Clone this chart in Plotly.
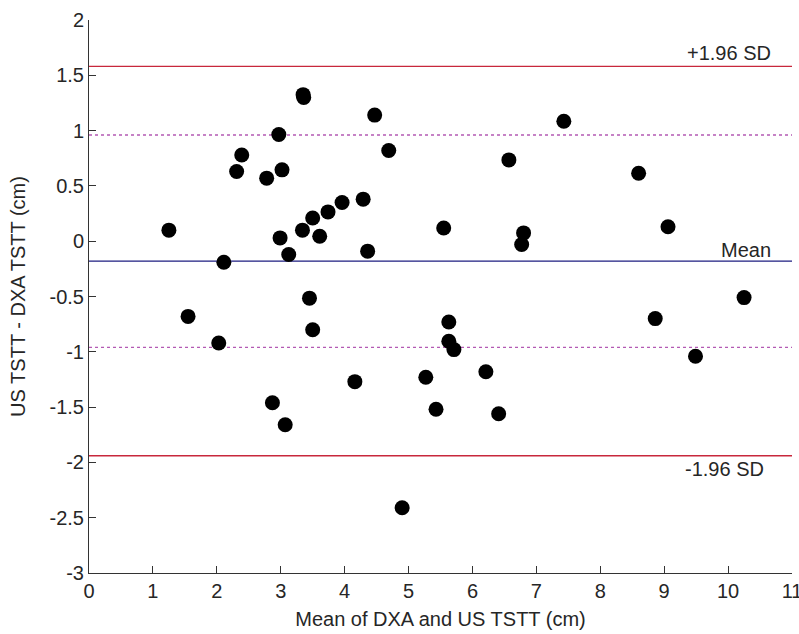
import plotly.graph_objects as go

# Bland-Altman agreement: mean of the two methods vs their difference (cm)
mean_dxa_us = [1.25, 1.55, 2.03, 2.11, 2.31, 2.39, 2.78, 2.87, 2.97, 2.99,
               3.02, 3.07, 3.125, 3.34, 3.35, 3.36, 3.45, 3.50, 3.50, 3.61,
               3.74, 3.96, 4.16, 4.29, 4.36, 4.47, 4.69, 4.90, 5.27, 5.43,
               5.55, 5.63, 5.63, 5.71, 6.21, 6.41, 6.57, 6.77, 6.80, 7.43,
               8.60, 8.86, 9.06, 9.49, 10.25]
diff_us_dxa = [0.10, -0.68, -0.92, -0.19, 0.63, 0.78, 0.57, -1.46, 0.965, 0.03,
               0.645, -1.66, -0.12, 0.10, 1.325, 1.30, -0.515, -0.80, 0.21, 0.045,
               0.265, 0.35, -1.27, 0.38, -0.09, 1.14, 0.82, -2.41, -1.23, -1.52,
               0.12, -0.73, -0.905, -0.98, -1.18, -1.56, 0.735, -0.03, 0.075, 1.085,
               0.615, -0.70, 0.13, -1.04, -0.51]

# Reference lines
bias_mean = -0.18
upper_loa = 1.58
lower_loa = -1.94
tolerance = [0.96, -0.96]

x_range = [0, 11]
y_range = [-3, 2]
x_ticks = list(range(0, 12))
x_tick_text = [str(v) for v in x_ticks]
y_ticks = [2, 1.5, 1, 0.5, 0, -0.5, -1, -1.5, -2, -2.5, -3]
y_tick_text = ["2", "1.5", "1", "0.5", "0", "-0.5", "-1", "-1.5", "-2", "-2.5", "-3"]

FONT = "Liberation Sans, Arial, sans-serif"
TXT = "#262626"
AX = "#333333"

fig = go.Figure()

shapes = []
for yv, col, dash in [(upper_loa, "#c8283c", "solid"),
                      (lower_loa, "#c8283c", "solid"),
                      (bias_mean, "#1c1c80", "solid"),
                      (tolerance[0], "#b45ab4", "dot"),
                      (tolerance[1], "#b45ab4", "dot")]:
    shapes.append(dict(type="line", xref="x", yref="y",
                       x0=x_range[0], x1=x_range[1], y0=yv, y1=yv,
                       line=dict(color=col, width=1.3, dash=dash), layer="below"))

fig.add_trace(go.Scatter(
    x=mean_dxa_us, y=diff_us_dxa, mode="markers",
    marker=dict(color="black", size=15, line=dict(width=0)),
    showlegend=False, hoverinfo="x+y"))

annotations = [
    dict(x=10.7, y=upper_loa, text="+1.96 SD", xanchor="right", yanchor="bottom",
         yshift=0, showarrow=False),
    dict(x=10.7, y=bias_mean, text="Mean", xanchor="right", yanchor="bottom",
         yshift=-2, showarrow=False),
    dict(x=10.6, y=lower_loa, text="-1.96 SD", xanchor="right", yanchor="top",
         yshift=0, showarrow=False),
]
for a in annotations:
    a["font"] = dict(family=FONT, size=20, color=TXT)

fig.update_layout(
    width=799, height=634,
    margin=dict(l=89, r=7, t=20, b=61),
    paper_bgcolor="white", plot_bgcolor="white",
    font=dict(family=FONT, size=20, color=TXT),
    shapes=shapes, annotations=annotations,
    showlegend=False,
)
fig.update_xaxes(
    range=x_range, tickvals=x_ticks, ticktext=x_tick_text,
    ticklabeloverflow="allow", automargin=False,
    showline=True, linecolor=AX, linewidth=1, mirror=False,
    ticks="inside", ticklen=7, tickcolor=AX, tickwidth=1,
    showgrid=False, zeroline=False,
    title=dict(text="Mean of DXA and US TSTT (cm)", standoff=10,
               font=dict(family=FONT, size=20, color=TXT)),
)
fig.update_yaxes(
    range=y_range, tickvals=y_ticks, ticktext=y_tick_text,
    automargin=False,
    showline=True, linecolor=AX, linewidth=1, mirror=False,
    ticks="inside", ticklen=7, tickcolor=AX, tickwidth=1,
    showgrid=False, zeroline=False,
    title=dict(text="US TSTT - DXA TSTT (cm)", standoff=18,
               font=dict(family=FONT, size=20, color=TXT)),
)

fig.write_html("out.html")
